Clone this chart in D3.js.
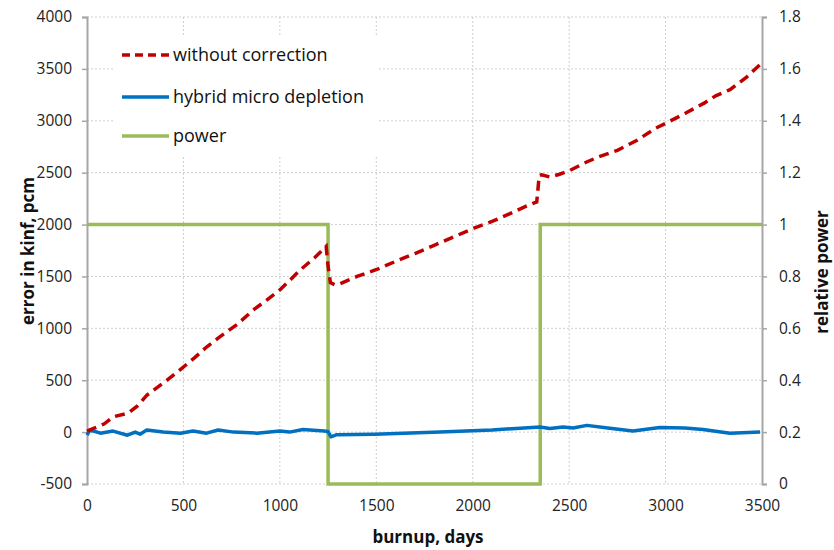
<!DOCTYPE html>
<html><head><meta charset="utf-8">
<script src="https://cdn.jsdelivr.net/npm/d3@7"></script>
<style>body{margin:0;background:#fff}svg{display:block}text{font-family:"Open Sans",sans-serif}</style>
</head><body>
<svg id="c" width="834" height="550"></svg>
<script>
const xTicks=[0,500,1000,1500,2000,2500,3000,3500];
const yLeftTicks=[-500,0,500,1000,1500,2000,2500,3000,3500,4000];
const yRightTicks=[0,0.2,0.4,0.6,0.8,1,1.2,1.4,1.6,1.8];
const seriesNames=["without correction","hybrid micro depletion","power"];
const withoutCorrection=[[0,10],[40,40],[90,80],[135,147],[213,183],[260,250],[311,356],[415,500],[482,600],[560,720],[620,820],[690,920],[780,1040],[861,1175],[930,1270],[1000,1370],[1050,1460],[1104,1560],[1180,1680],[1240,1790],[1250,1600],[1262,1440],[1285,1420],[1312,1430],[1400,1500],[1502,1567],[1600,1645],[1700,1720],[1800,1800],[1900,1880],[2000,1960],[2100,2030],[2193,2105],[2280,2180],[2332,2218],[2345,2475],[2357,2480],[2400,2458],[2450,2485],[2504,2522],[2591,2603],[2650,2650],[2750,2715],[2850,2810],[2950,2930],[3000,2975],[3100,3070],[3200,3170],[3260,3240],[3334,3300],[3420,3420],[3500,3560]];
const hybrid=[[0,-30],[15,20],[70,-10],[135,10],[210,-30],[250,0],[275,-20],[310,20],[395,0],[485,-10],[550,10],[620,-10],[680,20],[760,0],[880,-10],[1000,10],[1050,0],[1120,25],[1230,10],[1250,5],[1265,-45],[1295,-25],[1490,-20],[1830,0],[2100,20],[2349,50],[2400,35],[2468,50],[2520,40],[2592,65],[2700,40],[2831,10],[2970,45],[3100,40],[3194,25],[3334,-12],[3490,0]];
const power=[[0,1],[1250,1],[1250,0],[2350,0],[2350,1],[3500,1]];

const svg=d3.select("#c");
const L=87,R=762,T=17,B=484;
const x=d3.scaleLinear().domain([0,3500]).range([L,R]);
const yL=d3.scaleLinear().domain([-500,4000]).range([B,T]);
const yR=d3.scaleLinear().domain([0,1.8]).range([B,T]);
const grid="#cfcfcf", axisC="#a6a6a6";
const fmt=d=>String(d);

// gridlines
svg.append("g").selectAll("line").data(yLeftTicks).join("line")
  .attr("x1",L).attr("x2",R).attr("y1",d=>yL(d)).attr("y2",d=>yL(d))
  .attr("stroke",grid).attr("stroke-width",1).attr("stroke-dasharray","2,2");
svg.append("g").selectAll("line").data(xTicks.slice(1,-1)).join("line")
  .attr("x1",d=>x(d)).attr("x2",d=>x(d)).attr("y1",T).attr("y2",B)
  .attr("stroke",grid).attr("stroke-width",1).attr("stroke-dasharray","2,2");

// axes
const gl=svg.append("g").attr("transform",`translate(${L},0)`)
  .call(d3.axisLeft(yL).tickValues(yLeftTicks).tickSize(5).tickPadding(10).tickFormat(fmt));
const gr=svg.append("g").attr("transform",`translate(${R},0)`)
  .call(d3.axisRight(yR).tickValues(yRightTicks).tickSize(5).tickPadding(12).tickFormat(fmt));
const gb=svg.append("g").attr("transform",`translate(0,${B})`)
  .call(d3.axisBottom(x).tickValues(xTicks).tickSize(0).tickPadding(16).tickFormat(fmt));
gb.select(".domain").remove();
[gl,gr].forEach(g=>{g.select(".domain").attr("stroke",axisC).attr("stroke-width",2);g.selectAll(".tick line").attr("stroke",axisC).attr("stroke-width",1.5);});
[gl,gr,gb].forEach(g=>g.selectAll("text").attr("fill","#222").style("font-size","15.5px").style("font-family","Open Sans"));

// series
const lineL=d3.line().x(d=>x(d[0])).y(d=>yL(d[1]));
const lineR=d3.line().x(d=>x(d[0])).y(d=>yR(d[1]));
svg.append("path").datum(power).attr("d",lineR).attr("fill","none").attr("stroke","#9BBB59").attr("stroke-width",3.5);
svg.append("path").datum(hybrid).attr("d",lineL).attr("fill","none").attr("stroke","#0070C0").attr("stroke-width",3.5).attr("stroke-linejoin","round");
svg.append("path").datum(withoutCorrection).attr("d",lineL).attr("fill","none").attr("stroke","#C00000").attr("stroke-width",3.5).attr("stroke-dasharray","10,6");

// legend
const lg=svg.append("g");
lg.append("rect").attr("x",115).attr("y",37).attr("width",262).attr("height",118).attr("fill","#fff");
const legStyles=[{c:"#C00000",dash:"8,5"},{c:"#0070C0",dash:null},{c:"#9BBB59",dash:null}];
const rowsY=[55,97,136];
seriesNames.forEach((n,i)=>{
  lg.append("line").attr("x1",122).attr("x2",169).attr("y1",rowsY[i]).attr("y2",rowsY[i])
    .attr("stroke",legStyles[i].c).attr("stroke-width",3.5).attr("stroke-dasharray",legStyles[i].dash);
  lg.append("text").attr("x",173).attr("y",rowsY[i]).attr("dy","0.35em").text(n)
    .style("font-size","18px").attr("fill","#111");
});

// titles
svg.append("text").attr("transform","translate(28,251) rotate(-90)").attr("text-anchor","middle").attr("dy","0.35em")
  .style("font-weight","bold").style("font-size","17px").attr("fill","#111").text("error in kinf, pcm");
svg.append("text").attr("transform","translate(822,272) rotate(-90)").attr("text-anchor","middle").attr("dy","0.35em")
  .style("font-weight","bold").style("font-size","17px").attr("fill","#111").text("relative power");
svg.append("text").attr("x",428).attr("y",537).attr("text-anchor","middle").attr("dy","0.35em")
  .style("font-weight","bold").style("font-size","17px").attr("fill","#111").text("burnup, days");
</script>
</body></html>
